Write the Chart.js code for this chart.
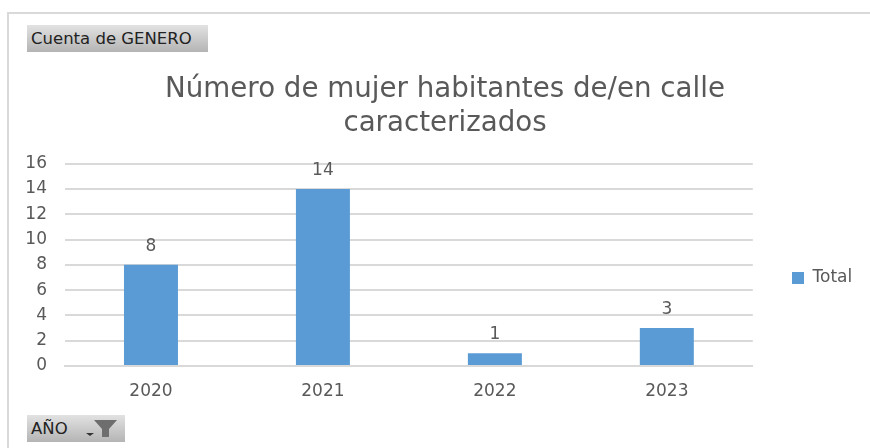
<!DOCTYPE html>
<html>
<head>
<meta charset="utf-8">
<script src="https://cdn.jsdelivr.net/npm/chart.js@4"></script>
<style>
  html, body { margin: 0; padding: 0; background: #fff; overflow: hidden; }
  #frame { position: absolute; left: 7px; top: 12px; width: 870px; height: 440px; border: 2px solid #d9d9d9; box-sizing: border-box; }
  #wrap { position: absolute; left: 0; top: 0; width: 870px; height: 448px; }
  .field { position: absolute; left: 27px; height: 27px; line-height: 27px; background: linear-gradient(#e2e2e2, #b4b4b4); color: #222; font: 16.5px "DejaVu Sans", sans-serif; box-sizing: border-box; padding-left: 4px; }
  .field span { line-height: 27px; }
  #f1 { top: 25px; width: 181px; }
  #f2 { top: 415px; width: 98px; }
  #f2 svg { position: absolute; left: 58px; top: 5px; }
</style>
</head>
<body>
<div id="frame"></div>
<div id="wrap"><canvas id="c" width="870" height="448"></canvas></div>
<div class="field" id="f1"><span>Cuenta de GENERO</span></div>
<div class="field" id="f2"><span>AÑO</span>
  <svg width="34" height="18" viewBox="0 0 34 18"><path d="M1 13h8l-4 3z" fill="#333"/><path d="M9 0h23l-8 9v8h-7V9z" fill="#6e6e6e"/></svg>
</div>
<script>
// data
const years = ['2020', '2021', '2022', '2023'];
const totals = [8, 14, 1, 3];
const yTicks = [0, 2, 4, 6, 8, 10, 12, 14, 16];
const titleLines = ['Número de mujer habitantes de/en calle', 'caracterizados'];

const FONT = '"DejaVu Sans", sans-serif';
const GREY = '#595959';

// value labels above the bars
const barLabels = {
  id: 'barLabels',
  afterDatasetsDraw(chart) {
    const ctx = chart.ctx;
    ctx.save();
    ctx.font = '17px ' + FONT;
    ctx.fillStyle = GREY;
    ctx.textAlign = 'center';
    ctx.textBaseline = 'bottom';
    chart.getDatasetMeta(0).data.forEach((bar, i) => {
      ctx.fillText(totals[i], bar.x, bar.y - 10);
    });
    ctx.restore();
  }
};

// title is centred on the whole picture, legend sits a bit below the plot's middle
const placeBoxes = {
  id: 'placeBoxes',
  afterLayout(chart) {
    chart.titleBlock.left = 0;
    chart.titleBlock.right = 890;
    const lg = chart.legend;
    lg.left = 782;
    lg.right = 870;
    lg.top = 260;
    lg.bottom = 296;
    lg.width = lg.right - lg.left;
    lg.height = lg.bottom - lg.top;
  }
};

new Chart(document.getElementById('c'), {
  type: 'bar',
  data: {
    labels: years,
    datasets: [{
      label: 'Total',
      data: totals,
      backgroundColor: '#5b9bd5',
      barPercentage: 0.314,
      categoryPercentage: 1
    }]
  },
  options: {
    responsive: false,
    animation: false,
    layout: { padding: { top: 0, left: 0, right: 37, bottom: 0 } },
    plugins: {
      legend: {
        position: 'right',
        labels: {
          boxWidth: 12,
          boxHeight: 12,
          color: GREY,
          font: { family: FONT, size: 17 }
        }
      },
      tooltip: { enabled: false },
      title: {
        display: true,
        text: titleLines,
        color: GREY,
        font: { family: FONT, size: 27.7, weight: 'normal', lineHeight: 1.23 },
        padding: { top: 73, bottom: 22.5 }
      }
    },
    scales: {
      x: {
        grid: { display: false },
        border: { color: '#d9d9d9', width: 2 },
        ticks: { color: GREY, font: { family: FONT, size: 17 }, padding: 7 },
        afterFit(axis) { axis.height = 448 - 366; }
      },
      y: {
        min: 0,
        max: 16,
        afterBuildTicks(axis) { axis.ticks = yTicks.map(v => ({ value: v })); },
        grid: { color: '#d9d9d9', lineWidth: 2, drawTicks: false },
        border: { display: false },
        ticks: { color: GREY, font: { family: FONT, size: 17 }, padding: 18 },
        afterFit(axis) { axis.width = 65; }
      }
    }
  },
  plugins: [barLabels, placeBoxes]
});
</script>
</body>
</html>
